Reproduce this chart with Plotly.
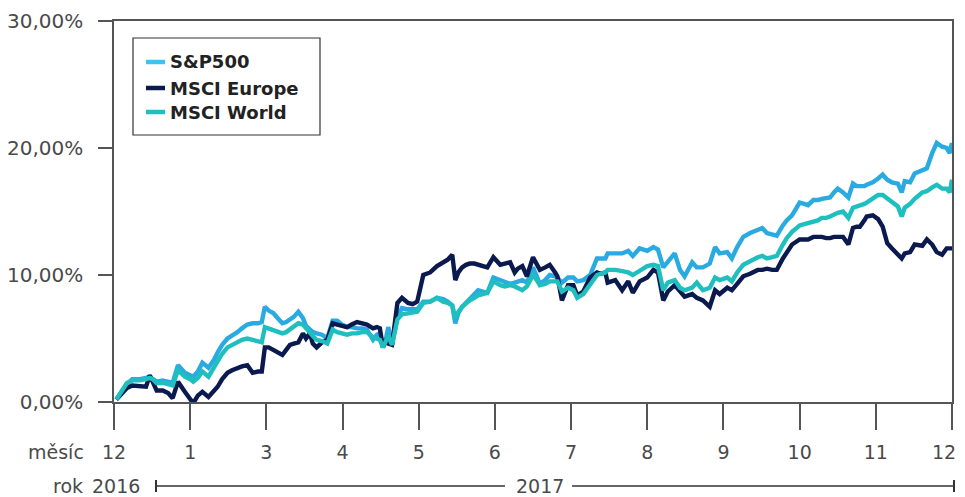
import plotly.graph_objects as go

# time position in months from the start (0 = "12" of 2016, 11 = "12" of 2017)
months = [0.03, 0.09, 0.17, 0.24, 0.34, 0.42, 0.47, 0.51, 0.56, 0.64, 0.71, 0.77, 0.84, 0.93,
          1.00, 1.04, 1.10, 1.16, 1.24, 1.31, 1.36, 1.42, 1.49, 1.55, 1.62, 1.68, 1.75, 1.82,
          1.89, 1.94, 1.98, 2.03, 2.09, 2.15, 2.21, 2.26, 2.31, 2.36, 2.42, 2.48, 2.52, 2.57,
          2.61, 2.66, 2.73, 2.80, 2.87, 2.93, 2.99, 3.06, 3.12, 3.19, 3.26, 3.32, 3.40, 3.45,
          3.49, 3.53, 3.57, 3.60, 3.65, 3.72, 3.78, 3.86, 3.92, 3.98, 4.06, 4.15, 4.24, 4.32,
          4.38, 4.44, 4.48, 4.52, 4.57, 4.62, 4.67, 4.73, 4.78, 4.84, 4.90, 4.98, 5.07, 5.13,
          5.20, 5.26, 5.30, 5.36, 5.42, 5.50, 5.55, 5.59, 5.66, 5.72, 5.79, 5.82, 5.88, 5.96,
          6.03, 6.08, 6.16, 6.25, 6.34, 6.39, 6.45, 6.48, 6.58, 6.67, 6.75, 6.81, 6.90, 7.00,
          7.08, 7.14, 7.21, 7.27, 7.36, 7.43, 7.49, 7.59, 7.65, 7.73, 7.82, 7.89, 7.95, 8.05,
          8.11, 8.18, 8.26, 8.35, 8.45, 8.51, 8.57, 8.64, 8.70, 8.78, 8.83, 8.90, 8.95, 9.00,
          9.06, 9.11, 9.18, 9.24, 9.29, 9.35, 9.40, 9.45, 9.50, 9.57, 9.64, 9.70, 9.75, 9.79,
          9.85, 9.88, 9.96, 10.03, 10.09, 10.15, 10.21, 10.29, 10.34, 10.38, 10.45, 10.51,
          10.61, 10.67, 10.74, 10.80, 10.87, 10.93, 10.97, 11.00]

sp500 = [0.2, 0.7, 1.4, 1.8, 1.8, 1.9, 2.0, 1.8, 1.6, 1.7, 1.6, 1.5, 2.9, 2.3,
         2.1, 2.0, 2.4, 3.1, 2.7, 3.3, 3.9, 4.5, 5.0, 5.2, 5.5, 5.8, 6.1, 6.2,
         6.2, 6.3, 7.5, 7.2, 7.0, 6.6, 6.2, 6.3, 6.5, 6.7, 7.1, 6.6, 6.0, 5.7,
         5.5, 5.4, 5.3, 5.0, 6.4, 6.4, 6.1, 5.9, 5.9, 5.8, 5.8, 5.7, 4.9, 5.3,
         5.4, 4.3, 5.0, 5.9, 4.5, 6.7, 7.4, 7.3, 7.3, 7.3, 7.9, 7.9, 8.2, 8.1,
         7.9, 7.6, 6.2, 7.0, 7.5, 7.8, 8.1, 8.4, 8.8, 8.7, 8.6, 9.8, 9.6, 9.4,
         9.3, 9.4, 9.5, 9.6, 9.4, 10.6, 9.9, 9.3, 9.6, 10.0, 9.9, 9.8, 9.4, 9.8,
         9.8, 9.5, 9.6, 10.0, 11.3, 11.3, 11.3, 11.7, 11.7, 11.7, 11.9, 11.5, 12.1, 11.9,
         12.2, 12.0, 10.6, 11.0, 11.7, 10.4, 9.9, 11.0, 10.6, 10.6, 10.9, 12.2, 11.7, 11.8,
         11.3, 12.2, 13.0, 13.3, 13.5, 13.7, 13.3, 13.2, 13.1, 13.9, 14.3, 14.7, 15.2, 15.7,
         15.6, 15.5, 15.9, 15.9, 16.0, 16.1, 16.1, 16.5, 16.8, 16.5, 16.1, 17.2, 17.0, 17.0,
         17.0, 17.1, 17.3, 17.6, 17.9, 17.5, 17.3, 17.2, 16.5, 17.4, 17.3, 18.0,
         18.3, 18.4, 19.6, 20.4, 20.1, 20.0, 19.6, 20.4]

europe = [0.2, 0.6, 1.1, 1.3, 1.2, 1.2, 2.1, 1.5, 0.9, 0.9, 0.7, 0.3, 1.6, 0.8,
          0.3, -0.1, 0.5, 0.8, 0.4, 0.8, 1.2, 1.8, 2.3, 2.5, 2.7, 2.8, 2.9, 2.3,
          2.4, 2.4, 4.3, 4.3, 4.1, 3.9, 3.7, 4.1, 4.5, 4.6, 4.7, 5.4, 5.0, 5.4,
          4.6, 4.3, 4.7, 4.9, 6.2, 6.1, 6.0, 5.9, 6.1, 6.3, 6.2, 6.1, 5.8, 5.9,
          5.8, 4.3, 4.8, 4.6, 4.5, 7.8, 8.2, 7.8, 7.7, 7.9, 10.0, 10.2, 10.7, 11.0,
          11.2, 11.6, 9.6, 10.2, 10.6, 10.8, 10.9, 10.9, 10.8, 10.7, 10.6, 11.4, 10.8, 10.9,
          11.0, 10.2, 10.5, 10.7, 9.9, 11.4, 10.8, 10.4, 10.6, 10.8, 10.2, 9.9, 8.0, 9.2,
          9.2, 8.4, 8.7, 9.8, 10.2, 10.1, 10.2, 9.4, 9.6, 8.8, 9.5, 8.6, 9.5, 9.8,
          10.4, 10.2, 8.0, 8.7, 9.2, 8.7, 8.3, 8.5, 8.2, 8.0, 7.5, 8.8, 8.5, 9.0,
          8.8, 9.3, 9.9, 10.1, 10.4, 10.4, 10.5, 10.4, 10.4, 11.3, 11.8, 12.4, 12.6, 12.8,
          12.8, 12.8, 13.0, 13.0, 13.0, 12.9, 12.9, 13.0, 13.0, 13.0, 12.4, 13.7, 13.8, 13.8,
          14.3, 14.6, 14.7, 14.4, 13.8, 12.5, 12.1, 11.6, 11.3, 11.7, 11.8, 12.4,
          12.3, 12.8, 12.4, 11.8, 11.6, 12.1, 12.1, 12.1]

world = [0.2, 0.8, 1.5, 1.7, 1.7, 1.8, 1.9, 1.8, 1.5, 1.5, 1.4, 1.3, 2.5, 2.0,
         1.8, 1.6, 1.9, 2.4, 2.0, 2.7, 3.3, 3.8, 4.3, 4.5, 4.7, 4.9, 5.0, 4.9,
         4.8, 4.7, 5.9, 5.8, 5.7, 5.5, 5.4, 5.5, 5.7, 5.9, 6.2, 6.1, 5.8, 5.5,
         5.2, 4.9, 4.8, 4.6, 5.7, 5.5, 5.4, 5.3, 5.4, 5.4, 5.5, 5.5, 5.1, 5.0,
         4.9, 4.3, 4.8, 5.2, 4.5, 6.5, 6.9, 7.0, 7.0, 7.1, 7.8, 7.9, 8.2, 7.9,
         7.8, 7.6, 6.6, 7.1, 7.5, 7.8, 8.0, 8.2, 8.4, 8.5, 8.6, 9.5, 9.2, 9.1,
         9.2, 9.1, 9.0, 8.8, 9.1, 10.0, 9.6, 9.2, 9.3, 9.5, 9.5, 9.5, 8.7, 9.0,
         8.8, 8.2, 8.5, 9.2, 10.0, 10.1, 10.2, 10.4, 10.4, 10.3, 10.2, 10.0, 10.3, 10.7,
         10.8, 10.7, 8.8, 9.4, 9.6, 9.0, 8.8, 9.0, 9.4, 8.8, 9.0, 9.8, 9.6, 9.8,
         9.5, 10.2, 10.8, 11.1, 11.4, 11.5, 11.3, 11.4, 11.5, 12.4, 12.9, 13.4, 13.7, 13.9,
         14.0, 14.1, 14.2, 14.3, 14.5, 14.5, 14.6, 14.8, 14.9, 15.0, 14.5, 15.3, 15.4, 15.4,
         15.6, 15.7, 16.0, 16.3, 16.3, 16.0, 15.7, 15.4, 14.6, 15.3, 15.6, 16.0,
         16.5, 16.6, 16.9, 17.1, 16.8, 16.8, 16.5, 17.5]

series_names = ["S&P500", "MSCI Europe", "MSCI World"]
line_colors = ["#29ABE2", "#0B1A4E", "#1FBFBF"]
legend_colors = ["#3EC3F0", "#0B1A4E", "#1FBFBF"]

x_tick_vals = list(range(12))
x_tick_labels = ["12", "1", "3", "4", "5", "6", "7", "8", "9", "10", "11", "12"]
y_tick_vals = [0, 10, 20, 30]
y_tick_labels = ["0,00%", "10,00%", "20,00%", "30,00%"]
year_labels = ["2016", "2017"]

# page body has an 8px margin, so the figure sits at (8, 8) in the 965x497 window
OFF = 8
W, H = 965 - OFF, 497 - OFF
PLOT_X0, PLOT_X1, PLOT_Y0, PLOT_Y1 = 114, 952, 21, 402   # in window pixels
L = PLOT_X0 - OFF
T = PLOT_Y0 - OFF
PW = PLOT_X1 - PLOT_X0
PH = PLOT_Y1 - PLOT_Y0
R = W - L - PW
B = H - T - PH


def px(x):
    return (x - PLOT_X0) / PW


def py(y):
    return (PLOT_Y1 - y) / PH


FONT = "DejaVu Sans"
TXT = "#4a4a4a"
AX = "#555555"

fig = go.Figure()
for name, vals, col in zip(series_names, [sp500, europe, world], line_colors):
    fig.add_trace(go.Scatter(x=months, y=vals, mode="lines", name=name,
                             line=dict(color=col, width=4.4), showlegend=False))

shapes = []
annotations = []

# manual legend
shapes.append(dict(type="rect", xref="paper", yref="paper",
                   x0=px(133), x1=px(320), y0=py(135), y1=py(38),
                   line=dict(color="#333333", width=1.2), fillcolor="white"))
for i, (name, col) in enumerate(zip(series_names, legend_colors)):
    yy = [62, 88, 112][i]
    shapes.append(dict(type="line", xref="paper", yref="paper",
                       x0=px(146), x1=px(165), y0=py(yy), y1=py(yy),
                       line=dict(color=col, width=4.5)))
    annotations.append(dict(xref="paper", yref="paper", x=px(168), y=py(yy),
                            xanchor="left", yanchor="middle", showarrow=False,
                            text="<b>" + name + "</b>",
                            font=dict(family=FONT, size=18, color="#222222")))

# last month label is placed so that it stays fully inside the window
axis_labels_shown = x_tick_labels[:-1] + [""]
annotations.append(dict(xref="paper", yref="paper", x=px(958), y=py(452),
                        xanchor="right", yanchor="middle", showarrow=False,
                        text=x_tick_labels[-1],
                        font=dict(family=FONT, size=19, color=TXT)))

YEAR_ROW = 486
# axis row labels
annotations.append(dict(xref="paper", yref="paper", x=px(86), y=py(452),
                        xanchor="right", yanchor="middle", showarrow=False, text="měsíc",
                        font=dict(family=FONT, size=19, color=TXT)))
annotations.append(dict(xref="paper", yref="paper", x=px(85), y=py(YEAR_ROW),
                        xanchor="right", yanchor="middle", showarrow=False, text="rok",
                        font=dict(family=FONT, size=19, color=TXT)))
annotations.append(dict(xref="paper", yref="paper", x=px(116), y=py(YEAR_ROW),
                        xanchor="center", yanchor="middle", showarrow=False, text=year_labels[0],
                        font=dict(family=FONT, size=19, color=TXT)))
annotations.append(dict(xref="paper", yref="paper", x=px(540), y=py(YEAR_ROW),
                        xanchor="center", yanchor="middle", showarrow=False, text=year_labels[1],
                        font=dict(family=FONT, size=19, color=TXT)))

# year bracket
for x0, x1 in [(155, 505), (572, 955)]:
    shapes.append(dict(type="line", xref="paper", yref="paper",
                       x0=px(x0), x1=px(x1), y0=py(YEAR_ROW), y1=py(YEAR_ROW),
                       line=dict(color="#333333", width=1.5)))
for xc in [156, 954]:
    shapes.append(dict(type="line", xref="paper", yref="paper",
                       x0=px(xc), x1=px(xc), y0=py(YEAR_ROW - 6), y1=py(YEAR_ROW + 6),
                       line=dict(color="#333333", width=2)))

fig.update_layout(
    width=W, height=H,
    margin=dict(l=L, r=R, t=T, b=B, pad=0, autoexpand=False),
    paper_bgcolor="white", plot_bgcolor="white",
    shapes=shapes, annotations=annotations,
    showlegend=False,
)
fig.update_xaxes(range=[0, 11], tickvals=x_tick_vals, ticktext=axis_labels_shown,
                 showgrid=False, zeroline=False, showline=True, mirror=True,
                 linecolor=AX, linewidth=1.5, ticks="outside", ticklen=26,
                 tickcolor=AX, tickwidth=1.5, ticklabelstandoff=6,
                 tickfont=dict(family=FONT, size=19, color=TXT))
fig.update_yaxes(range=[0, 30], tickvals=y_tick_vals, ticktext=y_tick_labels,
                 showgrid=False, zeroline=False, showline=True, mirror=True,
                 linecolor=AX, linewidth=1.5, ticks="outside", ticklen=14,
                 tickcolor=AX, tickwidth=1.5, ticklabelstandoff=11,
                 tickfont=dict(family=FONT, size=20, color=TXT))

fig.write_html("out.html",
               post_script="document.documentElement.style.overflow='hidden';"
                           "document.body.style.overflow='hidden';")
